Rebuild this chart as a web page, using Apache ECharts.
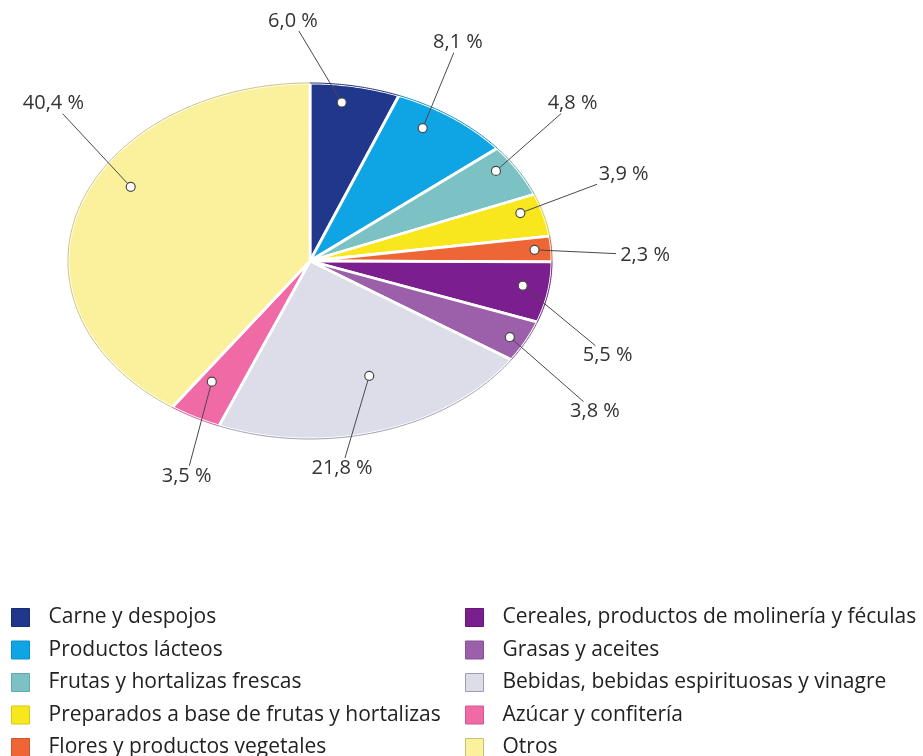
<!DOCTYPE html>
<html>
<head>
<meta charset="utf-8">
<script src="https://cdn.jsdelivr.net/npm/echarts@6/dist/echarts.min.js"></script>
<style>
html,body{margin:0;padding:0;background:#fff;}
#chart{width:923px;height:756px;}
</style>
</head>
<body>
<div id="chart"></div>
<script>
// ---- data ----
const categories = [
  'Carne y despojos',
  'Productos lácteos',
  'Frutas y hortalizas frescas',
  'Preparados a base de frutas y hortalizas',
  'Flores y productos vegetales',
  'Cereales, productos de molinería y féculas',
  'Grasas y aceites',
  'Bebidas, bebidas espirituosas y vinagre',
  'Azúcar y confitería',
  'Otros'
];
const shares = [6.0, 8.1, 4.8, 3.9, 2.3, 5.5, 3.8, 21.8, 3.5, 40.4];

// ---- styles ----
const colors = ['#21378c','#0fa4e4','#7cc2c4','#f8e71c','#ee6635','#7b1f8e','#9b60a9','#dcdde9','#f06aa6','#fbf19c'];
const edgeColors = ['#1a2c70','#0c8fc6','#64a9ab','#d8c816','#d0552b','#641877','#86519a','#9d9daf','#d05a8f','#cbbf74'];

// ---- layout (elliptical pie geometry, label placement) ----
const PIE = {cx: 310, cy: 261, rx: 242, ry: 178};
// dot: [angle offset from slice middle (deg), radius factor]
const dotLayout = [[-2.4,0.90],[-4.2,0.88],[-2.7,0.92],[-2.2,0.91],[0,0.93],[-1.2,0.89],[0.5,0.93],[-3.7,0.69],[2.5,0.79],[12,0.85]];
// label centre: [angle (deg, clockwise from top), radius factor]
const labelLayout = [[357,1.35],[26.5,1.37],[50.8,1.40],[69.4,1.385],[88.6,1.385],[113.4,1.34],[125.7,1.45],[173.5,1.17],[202.9,1.31],[309.8,1.38]];

const total = shares.reduce((a, b) => a + b, 0);
const startDeg = [];
shares.reduce((acc, v, i) => { startDeg[i] = acc / total * 360; return acc + v; }, 0);

function pt(deg, r) {
  const t = deg * Math.PI / 180;
  return [PIE.cx + PIE.rx * r * Math.sin(t), PIE.cy - PIE.ry * r * Math.cos(t)];
}
function fmt(v) { return v.toFixed(1).replace('.', ',') + ' %'; }

function renderItem(params, api) {
  const i = params.dataIndex;
  const v = api.value(0);
  const a0 = startDeg[i];
  const a1 = a0 + v / total * 360;
  const mid = (a0 + a1) / 2;
  const arc = [];
  for (let a = a0; a < a1; a += 0.5) arc.push(pt(a, 1));
  arc.push(pt(a1, 1));
  const poly = [pt(0, 0)].concat(arc);

  const d = pt(mid + dotLayout[i][0], dotLayout[i][1]);
  const L = pt(labelLayout[i][0], labelLayout[i][1]);
  const txt = fmt(v);
  const hw = txt.length * 5.4 + 2, hh = 10;
  const dx = d[0] - L[0], dy = d[1] - L[1];
  const s = Math.min(Math.abs(dx) > 0.01 ? hw / Math.abs(dx) : 1e9, Math.abs(dy) > 0.01 ? hh / Math.abs(dy) : 1e9);
  const e = [L[0] + dx * s, L[1] + dy * s];

  return {
    type: 'group',
    children: [
      {type: 'polygon', shape: {points: poly}, style: {fill: colors[i], stroke: '#ffffff', lineWidth: 2.8, lineJoin: 'round'}, z2: 1},
      {type: 'polyline', shape: {points: arc}, style: {fill: null, stroke: edgeColors[i], lineWidth: 1}, z2: 2},
      {type: 'line', shape: {x1: d[0], y1: d[1], x2: e[0], y2: e[1]}, style: {stroke: '#4a4a4a', lineWidth: 1}, z2: 10},
      {type: 'circle', shape: {cx: d[0], cy: d[1], r: 4.5}, style: {fill: '#ffffff', stroke: '#4a4a4a', lineWidth: 1.2}, z2: 11},
      {type: 'text', style: {text: txt, x: L[0], y: L[1], align: 'center', verticalAlign: 'middle', font: '20px "Open Sans"', fill: '#333333'}, z2: 12}
    ]
  };
}

function legendBlock(from, to, left) {
  return {
    orient: 'vertical', left: left, top: 607, height: 170, padding: 0,
    itemWidth: 18, itemHeight: 18, itemGap: 11.5, icon: 'rect',
    selectedMode: false,
    textStyle: {fontFamily: 'Open Sans', fontSize: 21, color: '#222222', padding: [0, 0, 0, 14]},
    data: categories.slice(from, to).map((n, k) => ({
      name: n,
      itemStyle: {color: colors[from + k], borderColor: edgeColors[from + k], borderWidth: 1}
    }))
  };
}

const chart = echarts.init(document.getElementById('chart'), null, {renderer: 'canvas'});
chart.setOption({
  animation: false,
  backgroundColor: '#ffffff',
  legend: [legendBlock(0, 5, 11), legendBlock(5, 10, 465)],
  series: [
    {
      type: 'custom',
      coordinateSystem: 'none',
      data: shares.map((v, i) => ({name: categories[i], value: [v, i]})),
      renderItem: renderItem,
      silent: true
    },
    {
      // carries the category names/colours for the legend only
      type: 'pie',
      center: [-200, -200],
      radius: 0,
      silent: true,
      label: {show: false},
      labelLine: {show: false},
      data: shares.map((v, i) => ({name: categories[i], value: v, itemStyle: {color: colors[i]}}))
    }
  ]
});
</script>
</body>
</html>
